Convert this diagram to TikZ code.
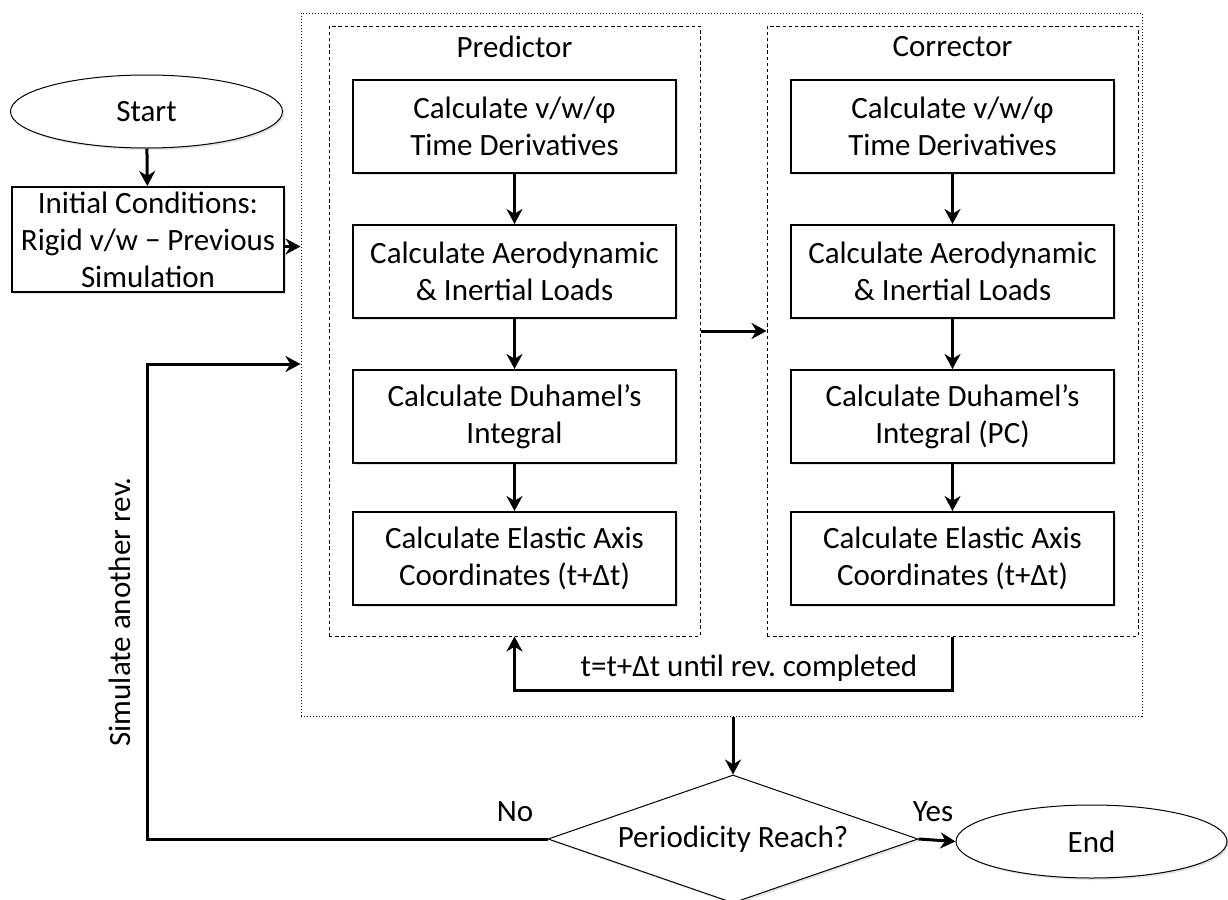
\documentclass[tikz,border=0pt]{standalone}
\usepackage{fontspec}
\setmainfont{Carlito}
\usetikzlibrary{arrows.meta,shapes.geometric,shadows,calc}
\frenchspacing
\begin{document}
\begin{tikzpicture}[x=0.5pt,y=-0.5pt,
  font=\fontsize{15.5pt}{18.5pt}\selectfont,
  shade/.style={drop shadow={opacity=0.22,shadow xshift=1pt,shadow yshift=-1pt}},
  stepbox/.style={draw, line width=1pt, fill=white, minimum width=161.5pt,
    minimum height=46.5pt, inner sep=0pt, align=center, shade},
  term/.style={draw, ellipse, line width=0.5pt, fill=white, inner sep=0pt,
    minimum width=136pt, minimum height=36.5pt, shade},
  decision/.style={draw, diamond, aspect=2.9, line width=0.5pt, fill=white,
    inner sep=0pt, minimum width=185pt, minimum height=64pt, shade},
  flow/.style={line width=1.5pt, -{Stealth[length=7.5pt,width=8pt,inset=2.4pt]}},
  grp/.style={draw, line width=0.5pt, dash pattern=on 1.7pt off 1.4pt,
    inner sep=0pt, minimum width=185.5pt, minimum height=305pt},
  frame/.style={draw, line width=0.5pt, dash pattern=on 0.5pt off 1pt,
    inner sep=0pt, minimum width=420.5pt, minimum height=351.5pt},
  lbl/.style={inner sep=0pt},
]
\useasboundingbox (0,0) rectangle (1228,900);

% outer iteration frame and the two stages
\node[frame] (outer) at (721.5,364.5) {};
\node[grp] (pred) at (514.5,331) {};
\node[grp] (corr) at (952.5,331) {};
\node[lbl] (predlbl) at (514.5,47) {Predictor};
\node[lbl] (corrlbl) at (952.5,47) {Corrector};

% start and initial conditions
\node[term] (start) at (146.5,111.5) {Start};
\node[stepbox, minimum width=136pt, minimum height=52.5pt] (init) at (148,239.5)
  {Initial Conditions:\\Rigid v/w − Previous\\Simulation};

% predictor steps
\node[stepbox] (p1) at (514.5,126.5) {Calculate v/w/φ\\Time Derivatives};
\node[stepbox] (p2) at (514.5,271.5) {Calculate Aerodynamic\\\& Inertial Loads};
\node[stepbox] (p3) at (514.5,416.5) {Calculate Duhamel’s\\Integral};
\node[stepbox] (p4) at (514.5,558.5) {Calculate Elastic Axis\\Coordinates (t+Δt)};

% corrector steps
\node[stepbox] (c1) at (952.5,126.5) {Calculate v/w/φ\\Time Derivatives};
\node[stepbox] (c2) at (952.5,271.5) {Calculate Aerodynamic\\\& Inertial Loads};
\node[stepbox] (c3) at (952.5,416.5) {Calculate Duhamel’s\\Integral (PC)};
\node[stepbox] (c4) at (952.5,558.5) {Calculate Elastic Axis\\Coordinates (t+Δt)};

% periodicity check and end
\node[decision] (dec) at (733,839) {Periodicity Reach?};
\node[term, minimum width=135.5pt] (end) at (1091.5,841.5) {End};

% labels
\node[lbl] (loopl) at (749,668) {t=t+Δt until rev. completed};
\node[lbl] (nol) at (515,812) {No};
\node[lbl] (yesl) at (933,812) {Yes};
\node[lbl, rotate=90] (siml) at (120,612) {Simulate another rev.};

% connectors
\draw[flow] (start) -- (init);
\draw[flow] ($(init.east)+(0,7)$) -- ($(init.east -| outer.west)+(0,7)$);
\foreach \a/\b in {p1/p2,p2/p3,p3/p4,c1/c2,c2/c3,c3/c4}
  \draw[flow] (\a.south) -- (\b.north);
\draw[flow] (pred.east) -- (corr.west);
\draw[flow] (corr.south) -- ++(0,54) -| (pred.south);
\draw[flow] (dec.north |- outer.south) -- (dec.north);
\draw[flow] (dec.east) -- (end.west);
\coordinate (turn) at (147,364);
\draw[flow] (dec.west) -| (turn) -- (turn -| outer.west);
\end{tikzpicture}
\end{document}
